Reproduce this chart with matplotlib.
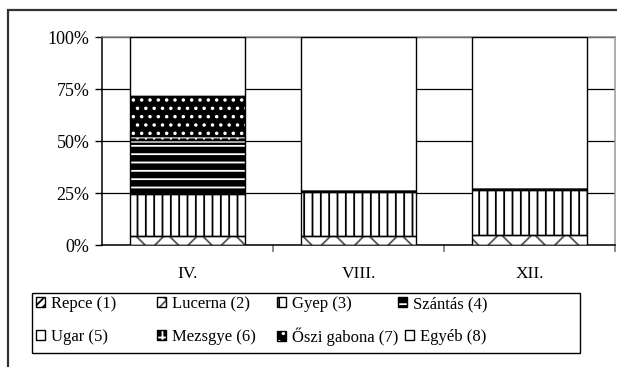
import matplotlib
matplotlib.use("Agg")
import matplotlib.pyplot as plt
import numpy as np
from matplotlib.patches import Rectangle
from matplotlib.legend_handler import HandlerTuple

plt.rcParams['font.family'] = ['Liberation Serif', 'DejaVu Serif']
plt.rcParams['hatch.linewidth'] = 1.3

categories = ['IV.', 'VIII.', 'XII.']
series_names = ['Repce (1)', 'Lucerna (2)', 'Gyep (3)', 'Szántás (4)',
                'Ugar (5)', 'Mezsgye (6)', 'Őszi gabona (7)', 'Egyéb (8)']
repce = [0.0, 0.0, 0.0]
lucerna = [4.3, 4.5, 4.8]
gyep = [20.1, 21.0, 21.6]
szantas = [24.6, 0.6, 0.5]
ugar = [1.5, 0.0, 0.0]
mezsgye = [1.9, 0.0, 0.0]
oszi_gabona = [19.2, 0.0, 0.0]
egyeb = [28.4, 73.9, 73.1]
yticks = [0, 25, 50, 75, 100]
ytick_labels = ['0%', '25%', '50%', '75%', '100%']

series = [repce, lucerna, gyep, szantas, ugar, mezsgye, oszi_gabona, egyeb]
# (facecolor, hatch colour, hatch)
styles = [
    ('white', 'black', '////'),
    ('white', '#555555', 'x'),
    ('white', 'black', '||'),
    ('black', 'white', '--'),
    ('white', 'black', ''),
    ('black', 'white', '++'),
    ('black', 'white', '..'),
    ('white', 'white', ''),
]

W, H = 617, 367
fig = plt.figure(figsize=(W/100, H/100), dpi=100)
ax = fig.add_axes([102/W, 1-245/H, 513/W, 208/H])

x = np.arange(len(categories))
width = 0.67
bottom = np.zeros(len(categories))
handles = []
for vals, (fc, hc, h) in zip(series, styles):
    vals = np.array(vals)
    b1 = ax.bar(x, vals, width, bottom=bottom, color=fc, edgecolor=hc,
                hatch=h, linewidth=0, zorder=3)
    b2 = ax.bar(x, vals, width, bottom=bottom, fill=False, edgecolor='black',
                linewidth=1.0, zorder=4)
    handles.append((b1, b2))
    bottom += vals

ax.set_xlim(-0.5, 2.5)
ax.set_ylim(0, 100)
ax.set_yticks(yticks)
ax.set_yticklabels(ytick_labels, fontsize=13)
ax.yaxis.grid(True, color='black', linewidth=0.9, zorder=0)
ax.set_axisbelow(True)
ax.set_xticks(x)
ax.set_xticklabels(categories, fontsize=12.5)
ax.set_xticks([0.5, 1.5, 2.5], minor=True)
ax.tick_params(axis='x', which='major', length=0, pad=15)
ax.tick_params(axis='x', which='minor', length=5, color='#777777', width=1.2)
ax.tick_params(axis='y', length=5, width=1, pad=4)
ax.spines['top'].set_color('#888888')
ax.spines['right'].set_color('#999999')
ax.spines['left'].set_color('black')
ax.spines['bottom'].set_color('black')
for s in ax.spines.values():
    s.set_linewidth(1.1)

# legend entries, placed like the reference's flowing legend
entry_pos = [(36, 304), (157, 304), (277, 304), (398, 304),
             (36, 337), (157, 337), (277, 337), (405, 337)]
for i, (px, py) in enumerate(entry_pos):
    fig.legend([handles[i]], [series_names[i]],
               handler_map={tuple: HandlerTuple(ndivide=1)},
               loc='center left', bbox_to_anchor=(px/W, 1-py/H),
               fontsize=12, frameon=False, handlelength=0.55,
               handleheight=0.55, handletextpad=0.35, borderpad=0,
               borderaxespad=0)
fig.patches.append(Rectangle((32/W, 1-353/H), 548/W, 60/H,
                             transform=fig.transFigure, fill=False,
                             edgecolor='black', linewidth=1.0))

# outer chart border
fig.patches.append(Rectangle((8/W, -0.05), 1.0, 1-10/H+0.05,
                             transform=fig.transFigure, fill=False,
                             edgecolor='#333333', linewidth=1.6))

fig.savefig('out.png', dpi=100)
